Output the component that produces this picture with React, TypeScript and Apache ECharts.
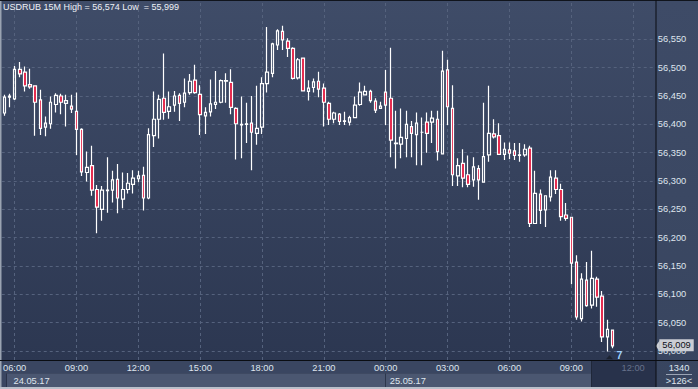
import { useEffect, useRef } from "react";
import * as echarts from "echarts";

// ---------- data ----------
const SYMBOL = "USDRUB";
const PERIOD = "15M";
const START_DAY = 24; // 24.05.17
const START_MINUTES = 5 * 60 + 30; // first bar 05:30
const BAR_MINUTES = 15;
const SLOT_COUNT = 127; // bars + empty future slots on the axis

const opens = [
  56.42, 56.448, 56.445, 56.497, 56.492, 56.47, 56.468, 56.443, 56.395, 56.401,
  56.435, 56.45, 56.437, 56.432, 56.423, 56.391, 56.315, 56.327, 56.285, 56.25,
  56.283, 56.284, 56.303, 56.268, 56.285, 56.294, 56.304, 56.31, 56.27, 56.38,
  56.409, 56.446, 56.423, 56.434, 56.451, 56.439, 56.456, 56.478, 56.453, 56.415,
  56.422, 56.435, 56.439, 56.476, 56.474, 56.428, 56.399, 56.4, 56.402, 56.384,
  56.395, 56.472, 56.49, 56.54, 56.564, 56.547, 56.534, 56.482, 56.517, 56.458,
  56.465, 56.476, 56.464, 56.437, 56.409, 56.418, 56.405, 56.404, 56.412, 56.435,
  56.452, 56.458, 56.441, 56.428, 56.457, 56.446, 56.367, 56.365, 56.375, 56.396,
  56.382, 56.386, 56.404, 56.404, 56.409, 56.348, 56.496, 56.428, 56.309, 56.331,
  56.311, 56.302, 56.322, 56.298, 56.346, 56.383, 56.38, 56.347, 56.355, 56.353,
  56.345, 56.346, 56.358, 56.225, 56.277, 56.249, 56.272, 56.305, 56.285, 56.24,
  56.236, 56.157, 56.057, 56.125, 56.081, 56.127, 56.097, 56.025, 56.037,
];
const highs = [
  56.452, 56.454, 56.503, 56.51, 56.502, 56.498, 56.469, 56.461, 56.414, 56.449,
  56.455, 56.454, 56.452, 56.452, 56.456, 56.393, 56.352, 56.362, 56.293, 56.291,
  56.342, 56.318, 56.33, 56.315, 56.314, 56.319, 56.318, 56.325, 56.393, 56.458,
  56.452, 56.525, 56.458, 56.459, 56.455, 56.481, 56.489, 56.505, 56.469, 56.43,
  56.479, 56.494, 56.479, 56.49, 56.497, 56.43, 56.449, 56.438, 56.45, 56.468,
  56.483, 56.572, 56.544, 56.568, 56.574, 56.552, 56.536, 56.517, 56.518, 56.478,
  56.481, 56.493, 56.472, 56.44, 56.422, 56.42, 56.422, 56.415, 56.449, 56.474,
  56.468, 56.461, 56.446, 56.44, 56.496, 56.535, 56.424, 56.428, 56.424, 56.406,
  56.421, 56.412, 56.421, 56.424, 56.424, 56.53, 56.514, 56.469, 56.34, 56.356,
  56.345, 56.342, 56.328, 56.438, 56.468, 56.409, 56.402, 56.368, 56.368, 56.367,
  56.367, 56.365, 56.362, 56.318, 56.285, 56.275, 56.319, 56.319, 56.295, 56.261,
  56.237, 56.169, 56.137, 56.157, 56.177, 56.131, 56.106, 56.055, 56.038,
];
const lows = [
  56.415, 56.43, 56.443, 56.483, 56.458, 56.463, 56.38, 56.381, 56.379, 56.392,
  56.421, 56.418, 56.396, 56.42, 56.346, 56.309, 56.299, 56.274, 56.208, 56.23,
  56.244, 56.262, 56.243, 56.252, 56.278, 56.278, 56.298, 56.248, 56.268, 56.36,
  56.375, 56.408, 56.41, 56.422, 56.406, 56.43, 56.452, 56.454, 56.381, 56.383,
  56.414, 56.427, 56.437, 56.438, 56.418, 56.338, 56.34, 56.367, 56.319, 56.364,
  56.383, 56.456, 56.483, 56.531, 56.531, 56.519, 56.479, 56.479, 56.458, 56.442,
  56.456, 56.448, 56.396, 56.399, 56.402, 56.399, 56.399, 56.398, 56.411, 56.433,
  56.452, 56.438, 56.42, 56.428, 56.399, 56.342, 56.322, 56.34, 56.342, 56.342,
  56.328, 56.328, 56.35, 56.367, 56.336, 56.348, 56.399, 56.291, 56.291, 56.289,
  56.289, 56.29, 56.267, 56.297, 56.334, 56.375, 56.346, 56.337, 56.339, 56.337,
  56.334, 56.343, 56.219, 56.224, 56.224, 56.219, 56.264, 56.277, 56.23, 56.23,
  56.118, 56.055, 56.052, 56.078, 56.075, 56.078, 56.016, 55.999, 56.005,
];
const closes = [
  56.448, 56.45, 56.497, 56.489, 56.468, 56.466, 56.439, 56.393, 56.402, 56.439,
  56.451, 56.439, 56.442, 56.427, 56.391, 56.316, 56.324, 56.284, 56.254, 56.284,
  56.284, 56.302, 56.27, 56.285, 56.296, 56.305, 56.309, 56.27, 56.382, 56.409,
  56.444, 56.421, 56.431, 56.45, 56.437, 56.455, 56.476, 56.456, 56.417, 56.421,
  56.436, 56.439, 56.477, 56.477, 56.43, 56.401, 56.4, 56.401, 56.386, 56.393,
  56.472, 56.492, 56.542, 56.565, 56.549, 56.534, 56.481, 56.514, 56.459, 56.464,
  56.475, 56.462, 56.439, 56.409, 56.42, 56.405, 56.406, 56.412, 56.434, 56.457,
  56.458, 56.442, 56.425, 56.432, 56.434, 56.372, 56.366, 56.377, 56.4, 56.384,
  56.402, 56.386, 56.384, 56.411, 56.352, 56.494, 56.431, 56.311, 56.327, 56.305,
  56.294, 56.325, 56.302, 56.343, 56.384, 56.378, 56.347, 56.356, 56.349, 56.345,
  56.346, 56.356, 56.225, 56.278, 56.248, 56.274, 56.307, 56.285, 56.237, 56.234,
  56.155, 56.06, 56.127, 56.08, 56.128, 56.095, 56.025, 56.038, 56.009,
];

const priceTicks = [
  56.0, 56.05, 56.1, 56.15, 56.2, 56.25, 56.3, 56.35, 56.4, 56.45, 56.5, 56.55,
];
const timeLabelIdx = [2, 14, 26, 38, 50, 62, 74, 86, 98, 110, 122];
const dateLabelIdx = [1, 74];
const dateLabelText = ["24.05.17", "25.05.17"];
const footerTop = "1340";
const footerBottom = ">126<";
const markerText = "7";

// ---------- layout / style ----------
const W = 698;
const H = 389;
const Y_MIN = 55.9841;
const Y_MAX = 56.6159;
const FONT = "'Liberation Sans', Arial, sans-serif";
const GRID_COLOR = "#55627d";
const LABEL_COLOR = "#dfe5ee";
const BEAR = "#e3173e";

const pad = (n: number) => String(n).padStart(2, "0");
const categories = Array.from({ length: SLOT_COUNT }, (_, i) => {
  const t = START_MINUTES + i * BAR_MINUTES;
  const day = START_DAY + Math.floor(t / 1440);
  const m = t % 1440;
  return `${day}.05 ${pad(Math.floor(m / 60))}:${pad(m % 60)}`;
});
const fmt = (v: number) => v.toFixed(3).replace(".", ",");

export default function App() {
  const ref = useRef<HTMLDivElement>(null);

  useEffect(() => {
    if (!ref.current) return;
    const chart = echarts.init(ref.current, undefined, { renderer: "svg" });
    const n = opens.length;
    const candles = opens.map((o, i) => [o, closes[i], lows[i], highs[i]]);
    const lastClose = closes[n - 1];
    const hi = Math.max(...highs);
    const lo = Math.min(...lows);

    const bg = (id: string, x: number, y: number, w: number, h: number, fill: any, z = -10) => ({
      id,
      type: "rect",
      z,
      silent: true,
      shape: { x, y, width: w, height: h },
      style: { fill },
    });
    const txt = (id: string, x: number, y: number, text: string, align = "center") => ({
      id,
      type: "text",
      z: 100,
      x,
      y,
      silent: true,
      style: {
        text,
        fill: LABEL_COLOR,
        font: `9.3px ${FONT}`,
        textAlign: align,
        textVerticalAlign: "middle",
      },
    });

    chart.setOption({
      animation: false,
      title: {
        text: `${SYMBOL} ${PERIOD} High = ${fmt(hi)} Low  = ${fmt(lo)}`,
        left: 3,
        top: 2,
        padding: 0,
        textStyle: { color: "#eef1f6", fontSize: 9, fontWeight: "normal", fontFamily: FONT },
      },
      graphic: [
        bg("plot", 0, 0, 656, 360, new echarts.graphic.LinearGradient(0, 0, 0, 1, [
          { offset: 0, color: "#3f4c68" },
          { offset: 1, color: "#2c3751" },
        ])),
        bg("panel", 656, 0, 42, 387, new echarts.graphic.LinearGradient(0, 0, 0, 1, [
          { offset: 0, color: "#3e4b67" },
          { offset: 1, color: "#38455f" },
        ])),
        bg("timeRow", 0, 361, 656, 12.5, "#3a4661"),
        bg("dateEdge", 6, 373.5, 586, 13.5, "#2a3349"),
        bg("dateRow", 7, 373.5, 585, 13.5, "#4b5771"),
        bg("futureEdge", 591, 361, 65, 26, "#1f2739"),
        bg("future", 592, 361, 64, 26, "#28324b"),
        bg("bottomEdge", 0, 387, W, 2, "#b9bfca"),
        bg("leftEdge", 0, 0, 1.5, 387, "#9aa3b1", 100),
        bg("topEdge", 0, 0, W, 1, "#10141c", 100),
        bg("xLine", 0, 360, W, 1, "#0a0d12", 100),
        bg("yLine", 655.5, 0, 1, 387, "#0a0d12", 100),
        bg("footRule", 666, 374, 26, 1, "#9aa4b5", 100),
        txt("foot1", 679, 367.5, footerTop),
        txt("foot2", 679, 380.5, footerBottom),
      ],
      grid: { left: -0.9, right: W - 656.3, top: 2, bottom: H - 360, containLabel: false },
      xAxis: [
        {
          type: "category",
          data: categories,
          boundaryGap: true,
          axisLine: { show: false },
          axisTick: { show: false },
          splitLine: { show: false },
          axisLabel: {
            interval: (i: number) => timeLabelIdx.includes(i),
            formatter: (v: string) => v.slice(-5),
            color: (v: string) => (categories.indexOf(v) >= n ? "#66718a" : LABEL_COLOR),
            fontSize: 9.3,
            fontFamily: FONT,
            margin: 3,
          },
        },
        {
          type: "category",
          data: categories,
          boundaryGap: true,
          position: "bottom",
          offset: 13.5,
          axisLine: { show: false },
          splitLine: { show: false },
          axisTick: {
            show: true,
            interval: (i: number) => i === dateLabelIdx[1],
            alignWithLabel: true,
            length: 13.5,
            lineStyle: { color: "#2c364c", width: 1 },
          },
          axisLabel: { show: false },
        },
      ],
      yAxis: {
        type: "value",
        position: "right",
        min: Y_MIN,
        max: Y_MAX,
        axisLine: { show: false },
        axisTick: { show: false },
        splitLine: { show: false },
        axisLabel: {
          customValues: priceTicks,
          formatter: (v: number) => fmt(v),
          color: LABEL_COLOR,
          fontSize: 9.3,
          fontFamily: FONT,
          margin: 1.5,
        },
      },
      series: [
        {
          type: "candlestick",
          xAxisIndex: 0,
          data: candles,
          barWidth: 3,
          z: 2,
          itemStyle: {
            color: "transparent",
            color0: BEAR,
            borderColor: "#ffffff",
            borderColor0: "#ffffff",
            borderWidth: 1.2,
          },
          markLine: {
            silent: true,
            z: 1,
            symbol: ["none", "none"],
            label: { show: false },
            lineStyle: { color: GRID_COLOR, type: [3, 3], width: 1 },
            data: [
              ...priceTicks.map((v) => ({ yAxis: v })),
              ...timeLabelIdx.map((i) => ({ xAxis: categories[i] })),
              {
                yAxis: lastClose,
                lineStyle: { color: "rgba(0,0,0,0)", width: 0.01 },
                label: {
                  show: true,
                  position: "end",
                  distance: 3,
                  formatter: fmt(lastClose),
                  backgroundColor: "#cbced4",
                  color: "#0d1017",
                  fontSize: 9.3,
                  fontFamily: FONT,
                  padding: [2, 3, 1, 3],
                },
              },
            ],
          },
          markPoint: {
            silent: true,
            data: [
              {
                coord: [categories[n - 1], lows[n - 1]],
                symbol: "triangle",
                symbolSize: [7, 4],
                symbolOffset: [-3, 9],
                itemStyle: { color: "#1c2331" },
                label: { show: false },
              },
              {
                coord: [categories[n - 1], lows[n - 1]],
                symbol: "circle",
                symbolSize: 1,
                itemStyle: { color: "rgba(0,0,0,0)" },
                label: {
                  show: true,
                  position: "inside",
                  offset: [7, 7],
                  formatter: markerText,
                  color: "#9fd0ff",
                  fontSize: 10.5,
                  fontWeight: "bold",
                  fontFamily: FONT,
                },
              },
              {
                coord: [categories[SLOT_COUNT - 1], lastClose],
                symbol: "triangle",
                symbolRotate: 90,
                symbolSize: [11, 4],
                symbolOffset: [4, 0],
                itemStyle: { color: "#cbced4" },
                label: { show: false },
              },
            ],
          },
        },
      ],
    });

    // date labels, placed at their bar through the category axis
    const dateTexts = dateLabelIdx.map((idx, k) => {
      const px = chart.convertToPixel({ xAxisIndex: 0 }, categories[idx]) as number;
      return txt(`date${k}`, px + 4, 380.5, dateLabelText[k], "left");
    });
    chart.setOption({ graphic: dateTexts });

    return () => chart.dispose();
  }, []);

  return (
    <div
      ref={ref}
      style={{ position: "fixed", left: 0, top: 0, width: W, height: H, background: "#3a4661" }}
    />
  );
}
